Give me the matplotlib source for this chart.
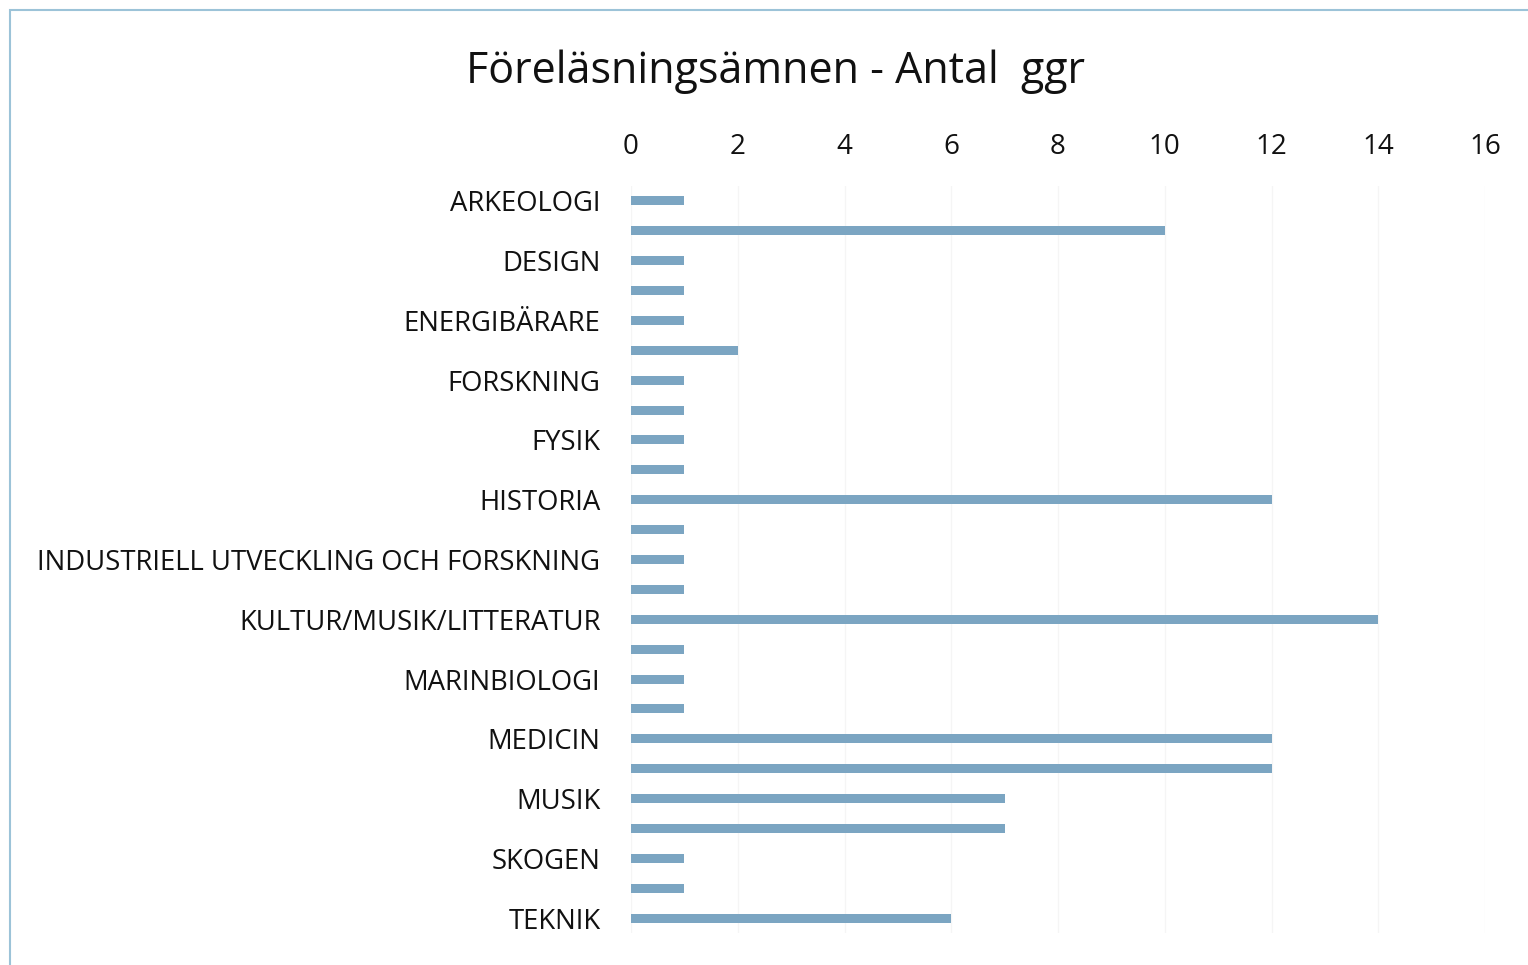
import matplotlib
matplotlib.use("Agg")
import matplotlib.pyplot as plt
from matplotlib.patches import Rectangle

plt.rcParams['font.family'] = ['Open Sans', 'DejaVu Sans']

title = "Föreläsningsämnen - Antal  ggr"
categories = [
    "ARKEOLOGI", "", "DESIGN", "", "ENERGIBÄRARE", "", "FORSKNING", "",
    "FYSIK", "", "HISTORIA", "", "INDUSTRIELL UTVECKLING OCH FORSKNING", "",
    "KULTUR/MUSIK/LITTERATUR", "", "MARINBIOLOGI", "", "MEDICIN", "",
    "MUSIK", "", "SKOGEN", "", "TEKNIK",
]
values = [1, 10, 1, 1, 1, 2, 1, 1, 1, 1, 12, 1, 1, 1, 14, 1, 1, 1, 12, 12, 7, 7, 1, 1, 6]
xticks = [0, 2, 4, 6, 8, 10, 12, 14, 16]

W, H = 1528, 965
fig = plt.figure(figsize=(W / 100, H / 100), dpi=100)
fig.patch.set_facecolor("white")

# frame of the scanned chart
fig.add_artist(Rectangle((10 / W, -0.05), 1.1, 1 - 10 / H + 0.05, transform=fig.transFigure,
                         fill=False, edgecolor="#9cc3d8", linewidth=1.5))

left, right = 631 / W, 1485 / W
top, bottom = 1 - 186 / H, 1 - 933 / H
ax = fig.add_axes([left, bottom, right - left, top - bottom])

ypos = list(range(len(categories)))
ax.barh(ypos, values, height=0.3, color="#7ba5c2", align="center", zorder=2)
ax.set_ylim(len(categories) - 0.5, -0.5)
ax.set_xlim(0, 16)
ax.set_yticks(ypos)
ax.set_yticklabels(categories, fontsize=19.8, color="#111111")
ax.set_xticks(xticks)
ax.set_xticklabels([str(t) for t in xticks], fontsize=20, color="#111111")
ax.xaxis.tick_top()
ax.tick_params(axis="x", length=0, pad=18)
ax.tick_params(axis="y", length=0, pad=22)
for s in ax.spines.values():
    s.set_visible(False)
ax.grid(axis="x", color="#f5f5f5", linewidth=1, zorder=0)
ax.set_axisbelow(True)

fig.text(776 / W, 1 - 72 / H, title, ha="center", va="center", fontsize=31, color="#111111")

fig.savefig("out.png", dpi=100, facecolor="white")
